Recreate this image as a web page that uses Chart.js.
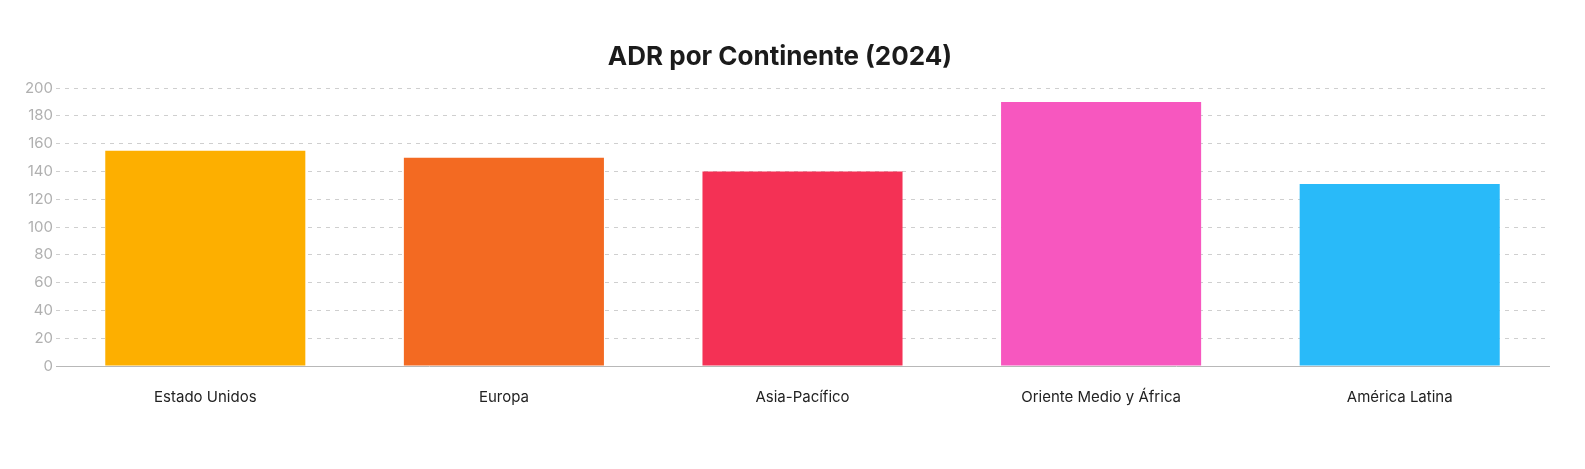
<!DOCTYPE html>
<html lang="es">
<head>
<meta charset="utf-8">
<title>ADR por Continente (2024)</title>
<script src="https://cdn.jsdelivr.net/npm/chart.js@4.4.1/dist/chart.umd.min.js"></script>
<style>
    html, body {
        margin: 0;
        padding: 0;
        background: #ffffff;
    }
    #contenedor {
        position: relative;
        width: 1585px;
        height: 469px;
    }
</style>
</head>
<body>
<div id="contenedor">
    <canvas id="grafico-adr"></canvas>
</div>
<script>
    // Datos
    const continentes = ['Estado Unidos', 'Europa', 'Asia-Pacífico', 'Oriente Medio y África', 'América Latina'];
    const adr = [155, 150, 140, 190, 131];
    const colores = ['#FDAF00', '#F36A22', '#F43155', '#F757BF', '#29BAF9'];
    const titulo = 'ADR por Continente (2024)';

    const fuente = 'Inter, "Open Sans", Arial, sans-serif';

    document.addEventListener('DOMContentLoaded', function () {
        const canvas = document.getElementById('grafico-adr');

        new Chart(canvas.getContext('2d'), {
            type: 'bar',
            data: {
                labels: continentes,
                datasets: [{
                    label: 'ADR',
                    data: adr,
                    backgroundColor: colores,
                    borderWidth: 0,
                    barPercentage: 0.67,
                    categoryPercentage: 1
                }]
            },
            options: {
                responsive: true,
                maintainAspectRatio: false,
                animation: false,
                layout: {
                    padding: { top: 42, right: 36, bottom: 49, left: 11 }
                },
                scales: {
                    y: {
                        min: 0,
                        max: 200,
                        afterFit: function (scale) {
                            scale.width = 45;
                        },
                        ticks: {
                            stepSize: 20,
                            color: '#b0b0b0',
                            padding: 3,
                            font: { family: fuente, size: 15 }
                        },
                        grid: {
                            color: '#cfcfcf',
                            lineWidth: 1,
                            drawTicks: false
                        },
                        border: {
                            display: false,
                            dash: [4, 5]
                        }
                    },
                    x: {
                        ticks: {
                            color: '#222222',
                            padding: 14,
                            font: { family: fuente, size: 15 }
                        },
                        grid: {
                            display: false
                        },
                        border: {
                            display: true,
                            color: '#b8b8b8',
                            width: 1
                        }
                    }
                },
                plugins: {
                    legend: { display: false },
                    tooltip: { enabled: false },
                    title: {
                        display: true,
                        text: titulo,
                        color: '#1b1b1b',
                        font: { family: fuente, size: 26, weight: 'bold' },
                        padding: { top: 0, bottom: 15 }
                    }
                }
            }
        });
    });
</script>
</body>
</html>
